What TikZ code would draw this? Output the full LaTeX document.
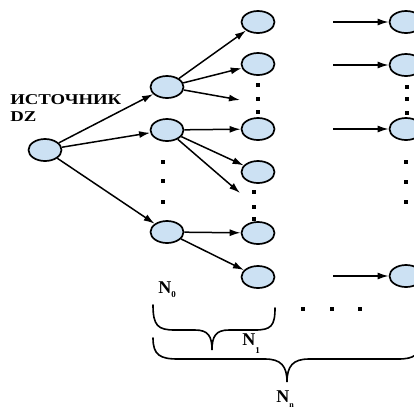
\documentclass[tikz,border=0pt]{standalone}
\usepackage{fontspec}
\setmainfont{Liberation Serif}
\usetikzlibrary{shapes.geometric,arrows.meta}
\definecolor{nfill}{RGB}{204,225,243}
\tikzset{
  nd/.style={ellipse, draw=black, line width=1.7pt, fill=nfill, minimum width=33pt, minimum height=22pt, inner sep=0pt},
  ar/.style={line width=1.5pt, -{Latex[length=11pt,width=7pt]}},
  dt/.style={fill=black, minimum size=3.6pt, inner sep=0pt, rectangle},
  lbl/.style={font=\bfseries\fontsize{15}{15}\selectfont, inner sep=0pt},
  br/.style={line width=1.6pt, line cap=round}
}
\begin{document}
\begin{tikzpicture}[x=1pt,y=-1pt]
\useasboundingbox (0,0) rectangle (414,410);
\clip (0,0) rectangle (414,410);
% source
\node[nd] (s) at (45,150) {};
\node[lbl, anchor=west, xscale=1.25] (t1) at (10,100) {ИСТОЧНИК};
\node[lbl, anchor=west, xscale=1.25] (t2) at (10,117) {DZ};
% level 1
\node[nd] (a1) at (167,87) {};
\node[nd] (a2) at (167,130) {};
\node[nd] (a3) at (167,232) {};
% level 2
\node[nd] (b1) at (258,22) {};
\node[nd] (b2) at (258,64) {};
\node[nd] (b3) at (258,129) {};
\node[nd] (b4) at (258,172) {};
\node[nd] (b5) at (258,233) {};
\node[nd] (b6) at (258,277) {};
% right column
\node[nd] (c1) at (406,22) {};
\node[nd] (c2) at (406,65) {};
\node[nd] (c3) at (406,129) {};
\node[nd] (c4) at (406,276) {};
% free ends
\coordinate (f1) at (240,100);
\coordinate (f2) at (240,193);
\coordinate (r1) at (333,22);
\coordinate (r2) at (333,65);
\coordinate (r3) at (333,129);
\coordinate (r4) at (333,276);
% arrows
\draw[ar] (s) -- (a1);
\draw[ar] (s) -- (a2);
\draw[ar] (s) -- (a3);
\draw[ar] (a1) -- (b1);
\draw[ar] (a1) -- (b2);
\draw[ar] (a1) -- (f1);
\draw[ar] (a2) -- (b3);
\draw[ar] (a2) -- (b4);
\draw[ar] (a2) -- (f2);
\draw[ar] (a3) -- (b5);
\draw[ar] (a3) -- (b6);
\draw[ar] (r1) -- (c1);
\draw[ar] (r2) -- (c2);
\draw[ar] (r3) -- (c3);
\draw[ar] (r4) -- (c4);
% dots
\node[dt] (d1) at (258,85) {};
\node[dt] (d2) at (258,99) {};
\node[dt] (d3) at (258,112) {};
\node[dt] (d4) at (254,192) {};
\node[dt] (d5) at (254,207) {};
\node[dt] (d6) at (254,219) {};
\node[dt] (d7) at (163,162) {};
\node[dt] (d8) at (163,181) {};
\node[dt] (d9) at (163,202) {};
\node[dt] (d10) at (407,87) {};
\node[dt] (d11) at (407,99) {};
\node[dt] (d12) at (407,113) {};
\node[dt] (d13) at (406,162) {};
\node[dt] (d14) at (406,182) {};
\node[dt] (d15) at (406,202) {};
\node[dt] (d16) at (303,309) {};
\node[dt] (d17) at (332,309) {};
\node[dt] (d18) at (360,309) {};
% braces
\draw[br] (153,305) .. controls (153,326) and (158,330) .. (175,330) -- (195,330)
  .. controls (208,330) and (212,336) .. (212,350)
  .. controls (212,336) and (216,330) .. (229,330) -- (255,330)
  .. controls (271,330) and (275,326) .. (275,308);
\draw[br] (153,338) .. controls (153,355) and (160,359) .. (178,359) -- (265,359)
  .. controls (281,359) and (287,366) .. (287,382)
  .. controls (287,366) and (293,359) .. (309,359) -- (398,359)
  .. controls (414,359) and (421,355) .. (421,338);
% labels
\node[lbl, font=\bfseries\fontsize{18}{18}\selectfont] (n0) at (167,290) {N\raisebox{-4pt}{\fontsize{9}{9}\selectfont 0}};
\node[lbl, font=\bfseries\fontsize{18}{18}\selectfont] (n1) at (251,344) {N\raisebox{-8pt}{\fontsize{9}{9}\selectfont 1}};
\node[lbl, font=\bfseries\fontsize{18}{18}\selectfont] (n2) at (285,399) {N\raisebox{-5pt}{\fontsize{8}{8}\selectfont n}};
\end{tikzpicture}
\end{document}
